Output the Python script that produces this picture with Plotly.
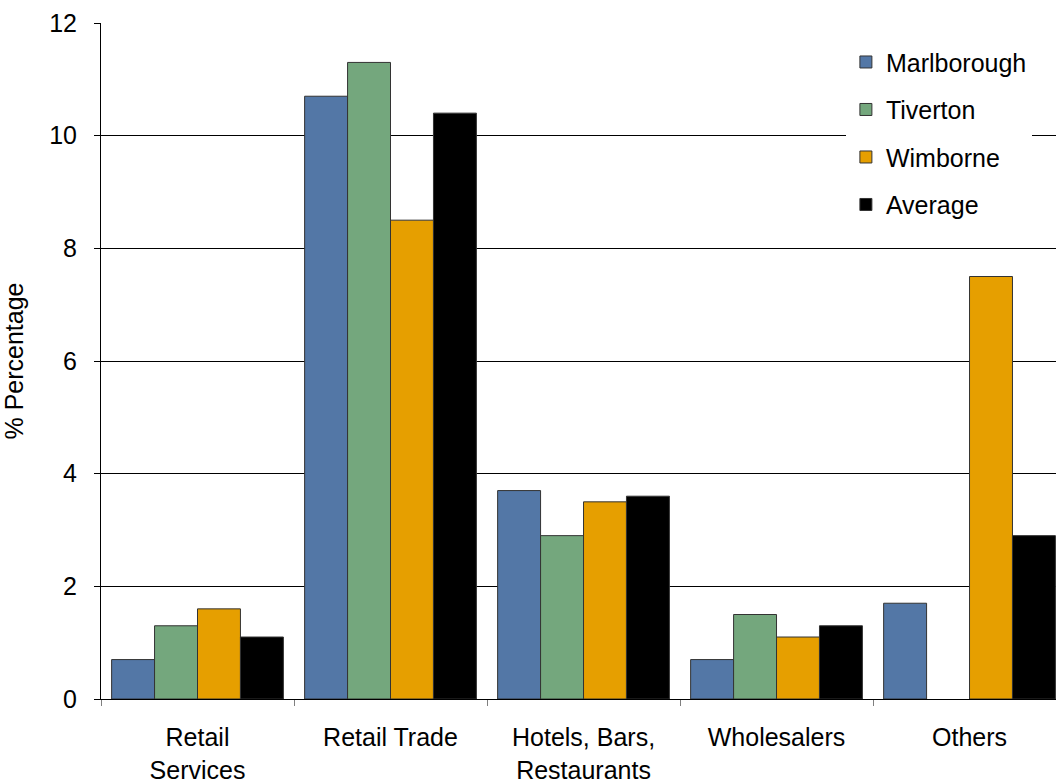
import plotly.graph_objects as go

categories = ["Retail<br>Services", "Retail Trade", "Hotels, Bars,<br>Restaurants", "Wholesalers", "Others"]
marlborough = [0.7, 10.7, 3.7, 0.7, 1.7]
tiverton = [1.3, 11.3, 2.9, 1.5, 0]
wimborne = [1.6, 8.5, 3.5, 1.1, 7.5]
average = [1.1, 10.4, 3.6, 1.3, 2.9]
series_names = ["Marlborough", "Tiverton", "Wimborne", "Average"]
colors = ["#5377A6", "#74A77D", "#E69F00", "#000000"]
y_ticks = [0, 2, 4, 6, 8, 10, 12]

FONT = "Liberation Sans, Arial, sans-serif"
FS = 25

fig = go.Figure()
for name, vals, col in zip(series_names, [marlborough, tiverton, wimborne, average], colors):
    fig.add_trace(go.Bar(
        x=categories, y=vals, name=name, legendgroup=name,
        marker=dict(color=col, line=dict(color="#333333", width=[1 if v > 0 else 0 for v in vals])),
    ))

fig.update_layout(
    width=1056, height=784,
    margin=dict(l=101, r=0, t=23, b=85, autoexpand=False),
    paper_bgcolor="white", plot_bgcolor="white",
    barmode="group", bargap=0.11, bargroupgap=0,
    font=dict(family=FONT, size=FS, color="black"),
    legend=dict(
        x=0.78, y=0.976, xanchor="left", yanchor="top",
        bgcolor="white", borderwidth=0,
        font=dict(family=FONT, size=FS, color="black"),
        traceorder="grouped", tracegroupgap=12,
        itemwidth=30,
    ),
    xaxis=dict(
        type="category", range=[-0.5, 4.448],
        showline=True, linecolor="black", linewidth=1,
        ticks="outside", tickson="boundaries", ticklen=6, tickcolor="#808080",
        showgrid=False, tickfont=dict(family=FONT, size=FS, color="black"),
        automargin=False, ticklabelstandoff=16,
    ),
    yaxis=dict(
        range=[0, 12], tickvals=y_ticks, ticktext=[str(v) for v in y_ticks],
        showline=True, linecolor="black", linewidth=1,
        ticks="outside", ticklen=6, tickcolor="black",
        showgrid=True, gridcolor="black", gridwidth=1, zeroline=False,
        tickfont=dict(family=FONT, size=FS, color="black"),
        title=dict(text="% Percentage", font=dict(family=FONT, size=FS, color="black"), standoff=20),
        automargin=False, ticklabelstandoff=12,
    ),
)

fig.write_html("out.html")
